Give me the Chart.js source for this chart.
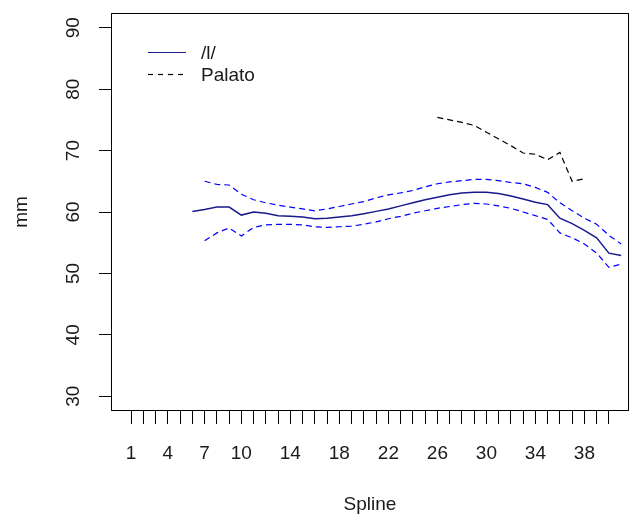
<!DOCTYPE html>
<html>
<head>
<meta charset="utf-8">
<script src="https://cdn.jsdelivr.net/npm/chart.js@4.4.1/dist/chart.umd.min.js"></script>
<style>
  html, body { margin: 0; padding: 0; background: #fff; }
  canvas { display: block; }
</style>
</head>
<body>
<canvas id="chart" width="636" height="518"></canvas>
<script>
// spline positions and values
const splineX = [6, 7, 8, 9, 10, 11, 12, 13, 14, 15, 16, 17, 18, 19, 20, 21, 22, 23,
  24, 25, 26, 27, 28, 29, 30, 31, 32, 33, 34, 35, 36, 37, 38, 39, 40, 41];
const lValues = [60.1, 60.4, 60.8, 60.8, 59.5, 60.0, 59.8, 59.4, 59.3, 59.2, 58.9, 59.0,
  59.2, 59.4, 59.7, 60.1, 60.5, 61.0, 61.5, 62.0, 62.4, 62.8, 63.1, 63.2, 63.2, 63.0,
  62.6, 62.1, 61.6, 61.2, 59.0, 58.1, 57.0, 55.8, 53.3, 52.9];
// confidence band starts one step later (x = 7)
const lUpper = [null, 65.0, 64.5, 64.4, 62.9, 62.0, 61.5, 61.1, 60.8, 60.5, 60.2, 60.5,
  60.9, 61.3, 61.7, 62.3, 62.8, 63.1, 63.5, 64.1, 64.6, 64.9, 65.1, 65.3, 65.3, 65.1,
  64.8, 64.6, 64.0, 63.2, 61.5, 60.2, 59.0, 58.0, 56.2, 54.8];
const lLower = [null, 55.3, 56.6, 57.4, 56.1, 57.5, 57.9, 58.0, 58.0, 57.9, 57.6, 57.5,
  57.6, 57.7, 58.0, 58.4, 58.9, 59.3, 59.8, 60.2, 60.6, 60.9, 61.2, 61.4, 61.3, 61.0,
  60.6, 60.0, 59.4, 58.8, 56.6, 55.8, 54.8, 53.3, 51.0, 51.5];

const palatoX = [26, 27, 28, 29, 30, 31, 32, 33, 34, 35, 36, 37, 38];
const palatoValues = [75.4, 75.0, 74.6, 74.1, 73.0, 71.9, 70.8, 69.6, 69.4, 68.5, 69.7, 65.0, 65.4];

const xTicks = [1, 2, 3, 4, 5, 6, 7, 8, 9, 10, 11, 12, 13, 14, 15, 16, 17, 18, 19, 20,
  21, 22, 23, 24, 25, 26, 27, 28, 29, 30, 31, 32, 33, 34, 35, 36, 37, 38, 39, 40];
const xTickLabels = [1, 4, 7, 10, 14, 18, 22, 26, 30, 34, 38];
const yTicks = [30, 40, 50, 60, 70, 80, 90];

const fontFamily = "'Liberation Sans', Arial, sans-serif";
const fontSize = 19;
const axisFont = { family: fontFamily, size: fontSize };
const textColor = "#1a1a1a";

const toPoints = (xs, ys) => xs.map((x, i) => ({ x: x, y: ys[i] }));

const tickGrid = {
  drawOnChartArea: false,
  drawTicks: true,
  tickLength: 13,
  tickColor: "#000",
  color: "#000",
  lineWidth: 1,
};

// box around the plot region, like R's bty="o"
const framePlugin = {
  id: "frame",
  afterDraw(chart) {
    const { ctx, chartArea: a } = chart;
    ctx.save();
    ctx.strokeStyle = "#000";
    ctx.lineWidth = 1;
    ctx.strokeRect(Math.round(a.left) - 0.5, Math.round(a.top) + 0.5,
      Math.round(a.right - a.left) + 1, Math.round(a.bottom - a.top) - 1);
    ctx.restore();
  },
};

// rotated y tick labels (R default las=0)
const yLabelPlugin = {
  id: "yLabels",
  afterDraw(chart) {
    const { ctx, chartArea: a } = chart;
    const s = chart.scales.y;
    ctx.save();
    ctx.font = fontSize + "px " + fontFamily;
    ctx.fillStyle = textColor;
    ctx.textAlign = "center";
    ctx.textBaseline = "middle";
    yTicks.forEach((v) => {
      ctx.save();
      ctx.translate(a.left - 38, s.getPixelForValue(v));
      ctx.rotate(-Math.PI / 2);
      ctx.fillText(String(v), 0, 0);
      ctx.restore();
    });
    ctx.restore();
  },
};

// legend in the top left corner, no box
const legendPlugin = {
  id: "rLegend",
  afterDraw(chart) {
    const { ctx, chartArea: a } = chart;
    const entries = chart.data.datasets.filter((d) => d.inLegend);
    ctx.save();
    ctx.font = fontSize + "px " + fontFamily;
    ctx.fillStyle = textColor;
    ctx.textBaseline = "middle";
    entries.forEach((d, i) => {
      const y = Math.round(a.top + 39 + i * 22) + 0.5;
      ctx.strokeStyle = d.borderColor;
      ctx.lineWidth = 1.2;
      ctx.setLineDash(d.borderDash ? [5, 5] : []);
      ctx.beginPath();
      ctx.moveTo(a.left + 36, y);
      ctx.lineTo(a.left + 74, y);
      ctx.stroke();
      ctx.fillText(d.label, a.left + 89, y + 1);
    });
    ctx.restore();
  },
};

const ctx = document.getElementById("chart").getContext("2d");
new Chart(ctx, {
  type: "line",
  data: {
    datasets: [
      {
        label: "/l/",
        inLegend: true,
        data: toPoints(splineX, lValues),
        borderColor: "#1a1a8c",
        borderWidth: 1.5,
        pointRadius: 0,
        tension: 0,
      },
      {
        label: "upper",
        data: toPoints(splineX, lUpper),
        borderColor: "#0000ff",
        borderWidth: 1.2,
        borderDash: [6, 4],
        pointRadius: 0,
        tension: 0,
      },
      {
        label: "lower",
        data: toPoints(splineX, lLower),
        borderColor: "#0000ff",
        borderWidth: 1.2,
        borderDash: [6, 4],
        pointRadius: 0,
        tension: 0,
      },
      {
        label: "Palato",
        inLegend: true,
        data: toPoints(palatoX, palatoValues),
        borderColor: "#000000",
        borderWidth: 1.2,
        borderDash: [6, 4],
        pointRadius: 0,
        tension: 0,
      },
    ],
  },
  options: {
    responsive: false,
    animation: false,
    layout: { padding: { left: 0, right: 8, top: 13, bottom: 0 } },
    plugins: {
      legend: { display: false },
      tooltip: { enabled: false },
    },
    scales: {
      x: {
        type: "linear",
        min: -0.56,
        max: 41.56,
        afterBuildTicks: (s) => { s.ticks = xTicks.map((v) => ({ value: v })); },
        afterFit: (s) => { s.height = 107; },
        grid: tickGrid,
        border: { display: false },
        ticks: {
          autoSkip: false,
          maxRotation: 0,
          padding: 18,
          color: textColor,
          font: axisFont,
          callback: (v) => (xTickLabels.includes(v) ? String(v) : ""),
        },
        title: {
          display: true,
          text: "Spline",
          color: textColor,
          font: axisFont,
          padding: { top: 0, bottom: 2 },
        },
      },
      y: {
        type: "linear",
        min: 27.6,
        max: 92.4,
        afterBuildTicks: (s) => { s.ticks = yTicks.map((v) => ({ value: v })); },
        afterFit: (s) => { s.width = 112; },
        grid: tickGrid,
        border: { display: false },
        ticks: { display: false },
        title: {
          display: true,
          text: "mm",
          color: textColor,
          font: axisFont,
          padding: { top: 10, bottom: 0 },
        },
      },
    },
  },
  plugins: [framePlugin, yLabelPlugin, legendPlugin],
});
</script>
</body>
</html>
